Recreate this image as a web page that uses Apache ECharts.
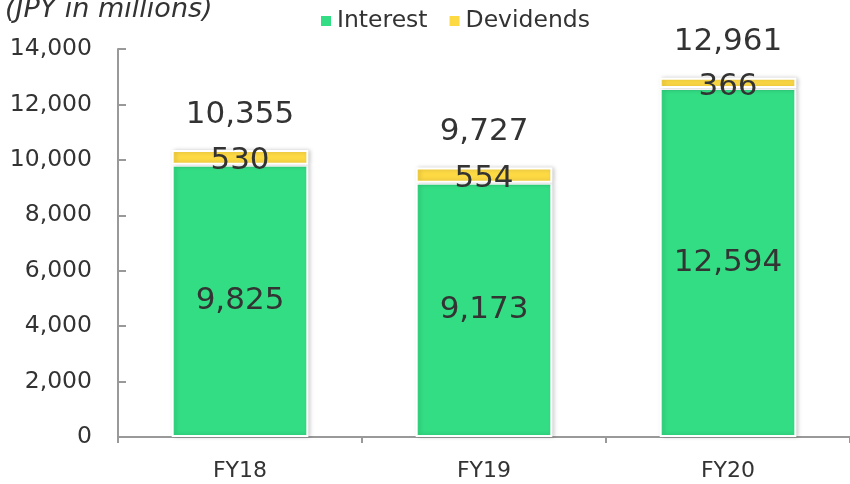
<!DOCTYPE html>
<html>
<head>
<meta charset="utf-8">
<script src="https://cdn.jsdelivr.net/npm/echarts@6/dist/echarts.min.js"></script>
<style>
html, body { margin: 0; padding: 0; background: #fff; }
#main { width: 850px; height: 484px; }
</style>
</head>
<body>
<div id="main"></div>
<script>
var years = ['FY18', 'FY19', 'FY20'];
var interest = [9825, 9173, 12594];
var dividends = [530, 554, 366];
var totals = [10355, 9727, 12961];
var yTicks = [0, 2000, 4000, 6000, 8000, 10000, 12000, 14000];

var font = 'DejaVu Sans';
var chart = echarts.init(document.getElementById('main'));

function fmt(v) {
    return Number(v).toLocaleString('en-US');
}

// white outline + light shadow on every segment
var barStyle = {
    borderColor: '#fff',
    borderWidth: 2,
    shadowBlur: 4,
    shadowOffsetX: 2,
    shadowColor: 'rgba(0,0,0,0.18)'
};

var option = {
    animation: false,
    title: {
        text: '(JPY in millions)',
        left: 0,
        top: -9,
        textStyle: { fontFamily: font, fontSize: 27, fontStyle: 'italic', fontWeight: 'normal', color: '#333' }
    },
    legend: {
        left: 314,
        top: 4,
        icon: 'rect',
        itemWidth: 12,
        itemHeight: 12,
        itemGap: 20,
        data: ['Interest', 'Devidends'],
        textStyle: { fontFamily: font, fontSize: 23.5, color: '#333' }
    },
    grid: { left: 118, right: 0, top: 49, bottom: 47 },
    xAxis: {
        type: 'category',
        data: years,
        axisLine: { lineStyle: { color: '#999', width: 2 } },
        axisTick: { show: true, length: 6, lineStyle: { color: '#999', width: 2 } },
        axisLabel: { fontFamily: font, fontSize: 22, color: '#333', margin: 23 }
    },
    yAxis: {
        type: 'value',
        min: yTicks[0],
        max: yTicks[yTicks.length - 1],
        interval: 2000,
        axisLine: { show: true, lineStyle: { color: '#999', width: 2 } },
        axisTick: { show: true, inside: true, length: 8, lineStyle: { color: '#999', width: 2 } },
        splitLine: { show: false },
        axisLabel: { fontFamily: font, fontSize: 23.5, color: '#333', margin: 26, formatter: fmt }
    },
    series: [{
        name: 'Interest',
        type: 'bar',
        stack: 'a',
        barWidth: '56%',
        data: interest,
        itemStyle: Object.assign({ color: '#33DD84' }, barStyle),
        label: { show: true, position: 'inside', fontFamily: font, fontSize: 31, color: '#333', formatter: function(p){ return fmt(p.value); } }
    }, {
        name: 'Devidends',
        type: 'bar',
        stack: 'a',
        data: dividends,
        itemStyle: Object.assign({ color: '#FDD944' }, barStyle),
        label: { show: true, position: 'inside', offset: [0, 4], fontFamily: font, fontSize: 31, color: '#333', formatter: function(p){ return fmt(p.value); } }
    }, {
        // empty segment on top, only used to carry the total label
        name: 'Total',
        type: 'bar',
        stack: 'a',
        data: [0, 0, 0],
        itemStyle: { color: 'transparent' },
        label: { show: true, position: 'top', distance: 20, fontFamily: font, fontSize: 31, color: '#333', formatter: function(p){ return fmt(totals[p.dataIndex]); } }
    }]
};

chart.setOption(option);
</script>
</body>
</html>
